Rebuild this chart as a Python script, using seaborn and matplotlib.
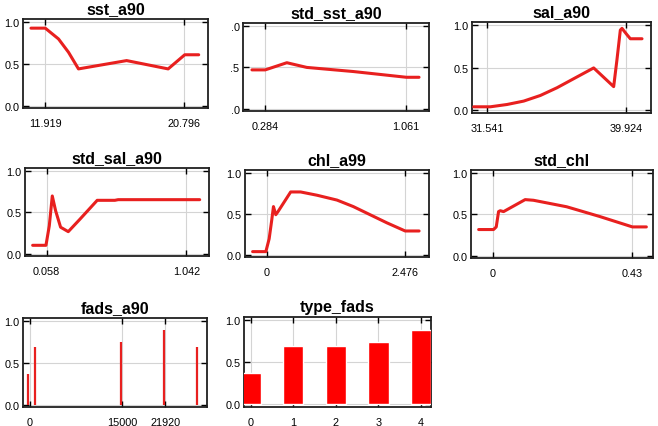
import numpy as np
import pandas as pd
import matplotlib
matplotlib.use('Agg')
import matplotlib.pyplot as plt
import seaborn as sns

# --- DATA ---
sst_x = [11.006, 11.919, 12.768, 13.406, 14.043, 17.122, 19.777, 20.838, 21.73]
sst_y = [0.93, 0.93, 0.80, 0.64, 0.44, 0.54, 0.44, 0.61, 0.61]

std_sst_x = [0.2105, 0.284, 0.4034, 0.5136, 0.7708, 1.0647, 1.1345]
std_sst_y = [0.47, 0.47, 0.557, 0.50, 0.45, 0.38, 0.38]

sal_x = [30.739, 31.742, 32.744, 33.747, 34.750, 35.753, 36.755, 37.959, 39.162,
         39.362, 39.563, 39.663, 39.964, 40.165, 40.867]
sal_y = [0.043, 0.043, 0.07, 0.11, 0.176, 0.267, 0.373, 0.50, 0.28,
         0.60, 0.945, 0.965, 0.89, 0.843, 0.843]

std_sal_x = [-0.0404, 0.0533, 0.0767, 0.0978, 0.1213, 0.1564, 0.2103, 0.2923,
             0.4141, 0.5383, 0.5617, 1.1357]
std_sal_y = [0.10, 0.10, 0.337, 0.70, 0.52, 0.32, 0.266, 0.417,
             0.647, 0.647, 0.655, 0.655]

chl_x = [-0.248, -0.0118, 0.0473, 0.0946, 0.1241, 0.1655, 0.2068, 0.4314, 0.6087,
         0.9, 1.2587, 1.55, 1.8496, 2.15, 2.476, 2.724]
chl_y = [0.036, 0.036, 0.194, 0.43, 0.59, 0.49, 0.53, 0.77, 0.77,
         0.73, 0.67, 0.59, 0.49, 0.39, 0.29, 0.29]

std_chl_x = [-0.044, 0.002, 0.0102, 0.0174, 0.0225, 0.0328, 0.0993, 0.1249,
             0.2273, 0.3297, 0.43, 0.473]
std_chl_y = [0.316, 0.316, 0.348, 0.534, 0.545, 0.534, 0.68, 0.672,
             0.593, 0.474, 0.348, 0.348]

fads_x = [-216, 863, 14839, 21692, 27141]
fads_y = [0.37, 0.69, 0.75, 0.89, 0.69]

type_cats = ['0', '1', '2', '3', '4']
type_vals = [0.37, 0.69, 0.69, 0.745, 0.89]

# --- STYLE ---
sns.set_style('ticks')
plt.rcParams['font.family'] = ['Liberation Sans', 'DejaVu Sans']
plt.rcParams['text.color'] = 'black'
line_col = '#e8201f'

W, H = 658, 427
fig = plt.figure(figsize=(W / 100, H / 100), dpi=100)


def make_ax(l, t, r, b):
    return fig.add_axes([l / W, 1 - b / H, (r - l) / W, (b - t) / H])


def style(ax, title, xlim, xticks, xlabels, ylabels=('0.0', '0.5', '1.0')):
    ax.set_xlim(*xlim)
    ax.set_ylim(-0.03, 1.04)
    ax.set_xticks(xticks)
    ax.set_xticklabels(xlabels)
    ax.set_yticks([0, 0.5, 1.0])
    ax.set_yticklabels(ylabels)
    ax.minorticks_off()
    ax.grid(False)
    # grid drawn by hand, under everything
    for xv in xticks:
        ax.axvline(xv, color='#d4d4d4', lw=0.8, zorder=0)
    for yv in [0, 0.5, 1.0]:
        ax.axhline(yv, color='#d4d4d4', lw=0.8, zorder=0)
    ax.tick_params(direction='in', top=True, right=True, length=4, width=1.0,
                   labelsize=7.8, colors='black')
    ax.tick_params(axis='x', pad=7)
    ax.tick_params(axis='y', pad=2.5)
    for s in ax.spines.values():
        s.set_linewidth(1.3)
        s.set_color('#202020')
    ax.set_title(title, fontsize=11.5, fontweight='bold', pad=4, color='black')
    ax.set_xlabel('')
    ax.set_ylabel('')


panels = [
    ((23, 20, 208, 109), 'sst_a90', sst_x, sst_y, (10.496, 22.325), [11.919, 20.796], ['11.919', '20.796'], None),
    ((243, 24, 429, 112), 'std_sst_a90', std_sst_x, std_sst_y, (0.161, 1.1896), [0.284, 1.061], ['0.284', '1.061'], ('.0', '.5', '.0')),
    ((472, 23, 651, 114), 'sal_a90', sal_x, sal_y, (30.638, 41.408), [31.541, 39.924], ['31.541', '39.924'], None),
    ((25, 169, 209, 257), 'std_sal_a90', std_sal_x, std_sal_y, (-0.0943, 1.2013), [0.058, 1.042], ['0.058', '1.042'], None),
    ((245, 171, 429, 258), 'chl_a99', chl_x, chl_y, (-0.384, 2.901), [0, 2.476], ['0', '2.476'], None),
    ((471, 171, 653, 259), 'std_chl', std_chl_x, std_chl_y, (-0.0676, 0.4935), [0, 0.43], ['0', '0.43'], None),
]

for box, title, xs, ys, xlim, xt, xl, yl in panels:
    ax = make_ax(*box)
    df = pd.DataFrame({'x': xs, 'y': ys})
    sns.lineplot(data=df, x='x', y='y', ax=ax, color=line_col, lw=2.2,
                 sort=False, estimator=None, zorder=3)
    style(ax, title, xlim, xt, xl, yl if yl else ('0.0', '0.5', '1.0'))

# fads_a90 : thin vertical bars
ax7 = make_ax(23, 319, 207, 408)
ax7.vlines(fads_x, 0, fads_y, color=line_col, lw=1.6, zorder=3)
style(ax7, 'fads_a90', (-1079, 28707), [0, 15000, 21920], ['0', '15000', '21920'])

# type_fads : bars
ax8 = make_ax(244, 318, 431, 408)
tf = pd.DataFrame({'cat': type_cats, 'val': type_vals})
sns.barplot(data=tf, x='cat', y='val', ax=ax8, color='#ff0000', saturation=1,
            width=0.48, zorder=3)
style(ax8, 'type_fads', (-0.157, 4.236), [0, 1, 2, 3, 4], type_cats)

fig.savefig('out.png', dpi=100)
